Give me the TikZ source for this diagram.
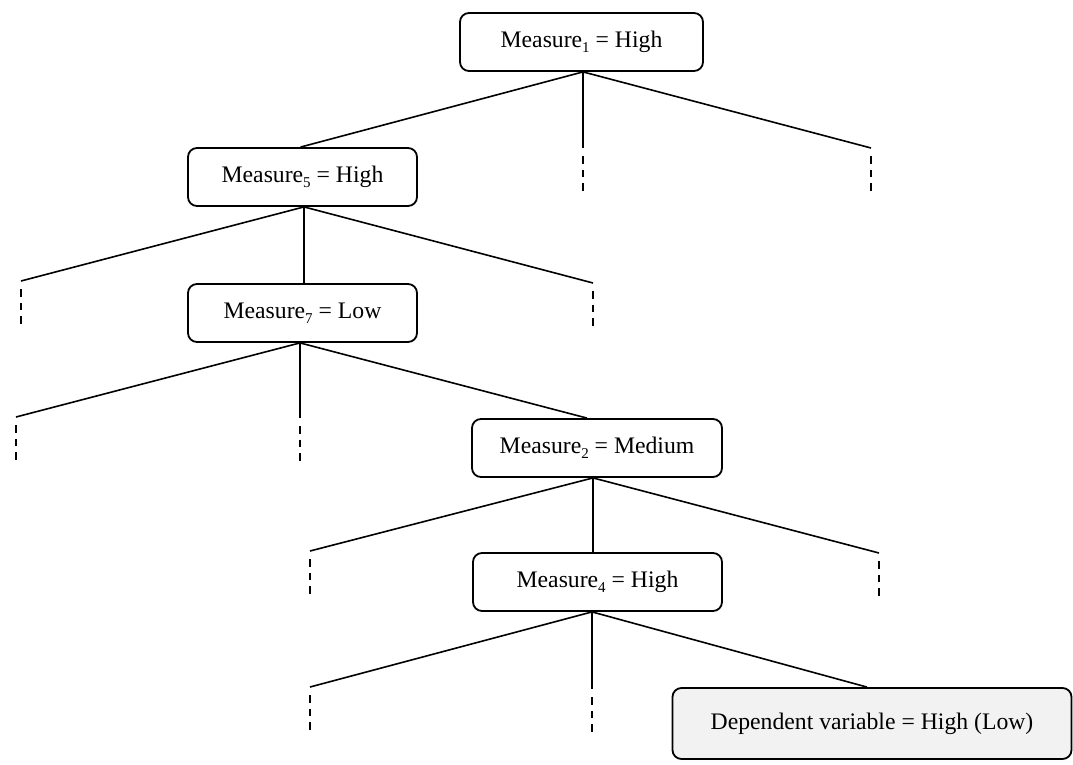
\documentclass[tikz,border=0pt]{standalone}
\usepackage{fontspec}
\setmainfont{Liberation Serif}
\newcommand\msub[1]{\raisebox{-0.22em}{\fontsize{15}{15}\selectfont #1}}
\definecolor{depfill}{HTML}{F2F2F2}
\begin{document}
\begin{tikzpicture}[x=1pt,y=-1pt,
  box/.style={draw=black, line width=1.8pt, rounded corners=9pt, minimum height=58pt,
    inner sep=0pt, font=\fontsize{23.7}{26}\selectfont},
  edge/.style={line width=1.6pt},
  stub/.style={line width=1.6pt, dash pattern=on 7.5pt off 6pt}]
\useasboundingbox (0,0) rectangle (1073,765);
% nodes
\node[box, minimum width=243pt] (m1) at (581.5,42) {Measure\msub{1} = High};
\node[box, minimum width=229pt] (m5) at (302.5,177) {Measure\msub{5} = High};
\node[box, minimum width=229pt] (m7) at (302.5,313) {Measure\msub{7} = Low};
\node[box, minimum width=250pt] (m2) at (597,448) {Measure\msub{2} = Medium};
\node[box, minimum width=249pt] (m4) at (597.5,582) {Measure\msub{4} = High};
\node[box, minimum width=399pt, minimum height=71pt, fill=depfill] (dep) at (872,723.5)
  {\raisebox{5pt}{Dependent variable = High (Low)}};
% stub end points
\coordinate (a2) at (583,148);
\coordinate (a3) at (871,148);
\coordinate (b1) at (21,281);
\coordinate (b3) at (593,283);
\coordinate (c1) at (16,417);
\coordinate (c2) at (300,418);
\coordinate (d1) at (310,551);
\coordinate (d3) at (879,553);
\coordinate (e1) at (310,687);
\coordinate (e2) at (592,689);
% connectors from Measure1
\draw[edge] ([xshift=1.5pt]m1.south) -- ([xshift=-2pt]m5.north);
\draw[edge] ([xshift=1.5pt]m1.south) -- (a2);
\draw[edge] ([xshift=1.5pt]m1.south) -- (a3);
% connectors from Measure5
\draw[edge] ([xshift=1.5pt]m5.south) -- (b1);
\draw[edge] ([xshift=1.5pt]m5.south) -- ([xshift=1.5pt]m7.north);
\draw[edge] ([xshift=1.5pt]m5.south) -- (b3);
% connectors from Measure7
\draw[edge] ([xshift=-2.5pt]m7.south) -- (c1);
\draw[edge] ([xshift=-2.5pt]m7.south) -- (c2);
\draw[edge] ([xshift=-2.5pt]m7.south) -- ([xshift=-10pt]m2.north);
% connectors from Measure2
\draw[edge] ([xshift=-4pt]m2.south) -- (d1);
\draw[edge] ([xshift=-4pt]m2.south) -- ([xshift=-4.5pt]m4.north);
\draw[edge] ([xshift=-4pt]m2.south) -- (d3);
% connectors from Measure4
\draw[edge] ([xshift=-5.5pt]m4.south) -- (e1);
\draw[edge] ([xshift=-5.5pt]m4.south) -- (e2);
\draw[edge] ([xshift=-5.5pt]m4.south) -- ([xshift=-5pt]dep.north);
% dashed stubs
\foreach \s in {a2,a3,b1,b3,c1,c2,d1,d3,e1,e2}
  \draw[stub] ([yshift=-8pt]\s) -- ([yshift=-44pt]\s);
\end{tikzpicture}
\end{document}
